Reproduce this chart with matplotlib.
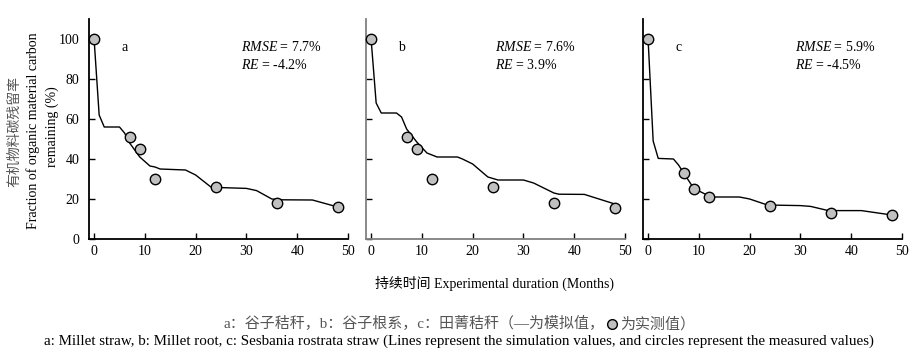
import matplotlib
matplotlib.use("Agg")
import matplotlib.pyplot as plt
from matplotlib.lines import Line2D

# ---- data -------------------------------------------------------------
months_obs = [0, 7, 9, 12, 24, 36, 48]
obs_a = [100, 51, 45, 30, 26, 18, 16]
obs_b = [100, 51, 45, 30, 26, 18, 15.5]
obs_c = [100, 33, 25, 21, 16.5, 13, 12]

sim_a_x = [0, 1, 2, 5, 6, 7, 9, 11, 12, 13, 18, 20, 23, 25, 30, 32, 35, 37, 43, 48]
sim_a_y = [100, 62, 56, 56, 53, 48, 41, 36.5, 36, 35, 34.5, 32, 26, 25.7, 25.3, 24.2, 20, 19.6, 19.5, 16]

sim_b_x = [0, 1, 2, 5, 6, 7, 9, 11, 13, 17, 18, 20, 23, 25, 30, 32, 36, 37, 42, 48]
sim_b_y = [100, 68, 63, 63, 61, 55, 48.5, 43, 41, 41, 40, 37.5, 31, 29.5, 29.5, 28, 23, 22.4, 22.3, 17.5]

sim_c_x = [0, 1, 2, 5, 6, 7, 9, 12, 13, 18, 20, 23.5, 30, 32, 35.5, 42, 48]
sim_c_y = [100, 49, 40.3, 40, 37, 33, 25.3, 21.5, 21, 21, 20, 17, 16.7, 16.3, 14.2, 14.2, 12]

panel_ids = ["a", "b", "c"]
rmse = ["7.7%", "7.6%", "5.9%"]
re_vals = ["-4.2%", "3.9%", "-4.5%"]

xticks = [0, 10, 20, 30, 40, 50]
yticks = [0, 20, 40, 60, 80, 100]

# ---- style ------------------------------------------------------------
SERIF = ["Liberation Serif", "Noto Sans CJK SC"]
CJK_GREY = "#555555"
plt.rcParams["font.family"] = SERIF
plt.rcParams["mathtext.fontset"] = "custom"
plt.rcParams["mathtext.it"] = "Liberation Serif:italic"
plt.rcParams["mathtext.rm"] = "Liberation Serif"

W, H = 920, 359
fig = plt.figure(figsize=(W / 100, H / 100), dpi=100)

lefts = [89, 366, 643]
ax_w, ax_top, ax_bot = 259, 19, 239
rmse_x = [29, 24.4, 29]
spine_cols = ["black", "#808080", "black"]

series = [(sim_a_x, sim_a_y, obs_a), (sim_b_x, sim_b_y, obs_b), (sim_c_x, sim_c_y, obs_c)]

for i, (sx, sy, obs) in enumerate(series):
    ax = fig.add_axes([lefts[i] / W, 1 - ax_bot / H, ax_w / W, (ax_bot - ax_top) / H])
    ax.plot(sx, sy, color="black", lw=1.0, zorder=2)
    ax.plot(months_obs, obs, ls="none", marker="o", ms=7.5, mfc="#c0c0c0",
            mec="black", mew=1.0, zorder=3, clip_on=False)
    ax.set_xlim(-1, 50)
    ax.set_ylim(0, 110)
    ax.set_xticks(xticks)
    ax.set_yticks(yticks)
    ax.tick_params(direction="in", length=4, width=1, labelsize=10, pad=4)
    ax.tick_params(axis="y", pad=7)
    if i > 0:
        ax.set_yticklabels([])
    for s in ["top", "right"]:
        ax.spines[s].set_visible(False)
    for s in ["left", "bottom"]:
        ax.spines[s].set_color(spine_cols[i])
        ax.spines[s].set_linewidth(1.3)
    ax.tick_params(colors="black")
    ax.text(6, 96, panel_ids[i], fontsize=10, va="center", ha="center")
    ax.text(rmse_x[i], 96, r"$RMSE$ = " + rmse[i], fontsize=10, va="center")
    ax.text(rmse_x[i], 87, r"$RE$ = " + re_vals[i], fontsize=10, va="center")

# y label: Chinese line in grey, English lines in black
fig.text(14 / W, 1 - 131 / H, "有机物料碳残留率", rotation=90, ha="center", va="center",
         fontsize=10, color=CJK_GREY, family=["Noto Sans CJK SC"])
fig.text(33 / W, 1 - 131 / H, "Fraction of organic material carbon", rotation=90,
         ha="center", va="center", fontsize=10)
fig.text(52 / W, 1 - 127 / H, "remaining (%)", rotation=90, ha="center", va="center",
         fontsize=10)

# x label
fig.text(495 / W, 1 - 283 / H, "持续时间 Experimental duration (Months)", ha="center",
         va="center", fontsize=10)

# caption
fig.text(605 / W, 1 - 324 / H, "a：谷子秸秆，b：谷子根系，c：田菁秸秆（—为模拟值，",
         ha="right", va="center", fontsize=10.8, color=CJK_GREY)
fig.add_artist(Line2D([612 / W], [1 - 324 / H], marker="o", ms=7, mfc="#c0c0c0",
                      mec="black", mew=1.0, transform=fig.transFigure))
fig.text(620 / W, 1 - 324 / H, "为实测值）", ha="left", va="center", fontsize=10.8,
         color=CJK_GREY)
fig.text(459 / W, 1 - 341 / H,
         "a: Millet straw, b: Millet root, c: Sesbania rostrata straw (Lines represent the "
         "simulation values, and circles represent the measured values)",
         ha="center", va="center", fontsize=10.8)

fig.savefig("out.png", dpi=100, facecolor="white")
